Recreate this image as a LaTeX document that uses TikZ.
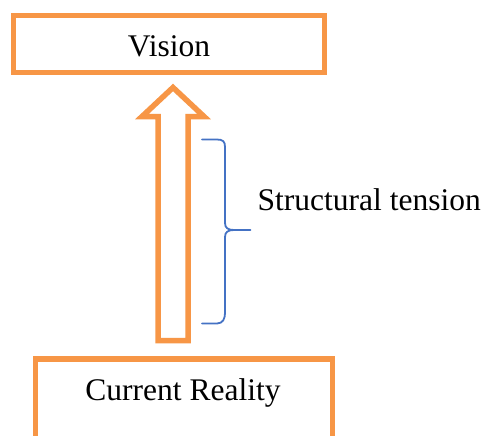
\documentclass[tikz,border=0pt]{standalone}
\usepackage{fontspec}
\setmainfont{Liberation Serif}
\definecolor{boxorange}{HTML}{F79646}
\definecolor{braceblue}{HTML}{4472C4}
\begin{document}
\begin{tikzpicture}[x=1pt,y=-1pt,
  box/.style={draw=boxorange, line width=5.5pt, rectangle, inner sep=0pt, outer sep=0pt},
  lbl/.style={font=\fontsize{31.5}{36}\selectfont, inner sep=0pt, text=black},
  arrowbox/.style={draw=boxorange, line width=5.5pt, line join=miter, fill=white},
  bracestyle/.style={draw=braceblue, line width=1.8pt, line cap=round}]
\useasboundingbox (0,0) rectangle (485,436);
\clip (0,0) rectangle (485,436);
% boxes
\node[box, minimum width=311pt, minimum height=57pt] (vision) at (169,44) {};
\node[lbl, anchor=base] (visiontext) at (169,57) {Vision};
\node[box, minimum width=297pt, minimum height=101pt] (current) at (184,409.5) {};
\node[lbl, anchor=base] (currenttext) at (183,400) {Current Reality};
% block arrow
\coordinate (tip) at (173,87.5);
\draw[arrowbox] (158,340.5) -- (158,116.5) -- (142,116.5) -- (tip) -- (204,116.5) -- (188,116.5) -- (188,340.5) -- cycle;
% brace
\coordinate (btop) at (202,139.5);
\coordinate (bbot) at (202,323.5);
\coordinate (bmid) at (250.5,230);
\draw[bracestyle] (btop) -- (217,139.5) .. controls (223,139.5) and (225,141.5) .. (225,147)
  -- (225,223) .. controls (225,228) and (228,230) .. (234,230) -- (bmid);
\draw[bracestyle] (234,230) .. controls (228,230) and (225,232) .. (225,237)
  -- (225,313) .. controls (225,318.5) and (223,323.5) .. (217,323.5) -- (bbot);
% label
\node[lbl, anchor=base west] (tension) at (257.5,210) {Structural tension};
\end{tikzpicture}
\end{document}
